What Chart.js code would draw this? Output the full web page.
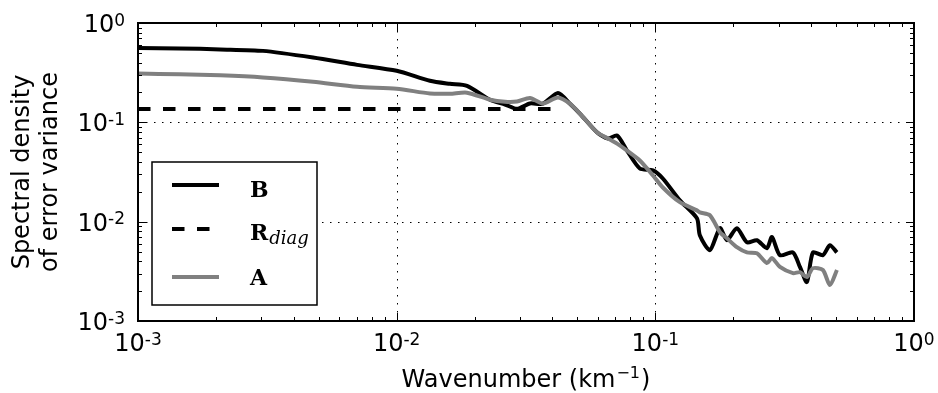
<!DOCTYPE html>
<html>
<head>
<meta charset="utf-8">
<script src="https://cdn.jsdelivr.net/npm/chart.js@4/dist/chart.umd.min.js"></script>
<style>
  body { margin: 0; background: #fff; }
  canvas { display: block; }
</style>
</head>
<body>
<canvas id="chart" width="938" height="393"></canvas>
<script>
// wavenumber (km^-1) sample points
const wavenumber = [0.001, 0.00145, 0.00208, 0.00304, 0.00475, 0.00703, 0.0100, 0.01345, 0.01606, 0.0187,
  0.02296, 0.02624, 0.02918, 0.03275, 0.03677, 0.04204, 0.04677, 0.05117, 0.05946, 0.06561,
  0.07112, 0.07769, 0.0871, 0.0979, 0.1069, 0.1244, 0.1448, 0.1486, 0.1625, 0.1778,
  0.1892, 0.2066, 0.226, 0.247, 0.27, 0.2824, 0.3032, 0.3404, 0.3622, 0.3855,
  0.4066, 0.4444, 0.4731, 0.5035];

// B (background error)
const specB = [0.561, 0.555, 0.542, 0.524, 0.449, 0.379, 0.330, 0.262, 0.244, 0.233,
  0.169, 0.151, 0.137, 0.155, 0.154, 0.197, 0.154, 0.122, 0.0794, 0.0687,
  0.0736, 0.0520, 0.0343, 0.0328, 0.0272, 0.0164, 0.0108, 0.00731, 0.00517, 0.0086,
  0.0065, 0.0086, 0.0062, 0.0065, 0.0054, 0.0070, 0.0046, 0.0049, 0.0035, 0.00247,
  0.0049, 0.0046, 0.0058, 0.0049];

// A (analysis error)
const specA = [0.310, 0.304, 0.297, 0.283, 0.256, 0.228, 0.218, 0.195, 0.194, 0.199,
  0.169, 0.161, 0.162, 0.176, 0.155, 0.178, 0.154, 0.122, 0.0794, 0.0687,
  0.0611, 0.0520, 0.0413, 0.0292, 0.0221, 0.0157, 0.0130, 0.0124, 0.0116, 0.00783,
  0.0068, 0.00553, 0.0049, 0.0048, 0.00383, 0.0043, 0.0035, 0.00303, 0.0031, 0.00277,
  0.0034, 0.00326, 0.0023, 0.00326];

// R_diag is flat up to ~0.04 km^-1
const rdiagK = [0.001, 0.0395];
const rdiagVal = [0.136, 0.136];

const decades = [-3, -2, -1, 0];
const legendLabels = ['B', 'R', 'A'];

const toPoints = (xs, ys) => xs.map((x, i) => ({ x: x, y: ys[i] }));

// "10" with a raised exponent, like matplotlib's log labels
function drawPow(ctx, d, x, baseline, align) {
  ctx.font = '24px "DejaVu Sans"';
  const w1 = ctx.measureText('10').width;
  const exp = String(d);
  ctx.font = '17px "DejaVu Sans"';
  const w2 = ctx.measureText(exp).width;
  const w = w1 + w2;
  const x0 = align === 'right' ? x - w : x - w / 2;
  ctx.font = '24px "DejaVu Sans"';
  ctx.fillText('10', x0, baseline);
  ctx.font = '17px "DejaVu Sans"';
  ctx.fillText(exp, x0 + w1, baseline - 6.5);
}

// dotted grid, inward ticks, frame, legend, tick labels and axis titles
const decorations = {
  id: 'decorations',
  beforeDatasetsDraw(chart) {
    const { ctx, chartArea: a, scales } = chart;
    ctx.save();
    ctx.strokeStyle = '#000';
    ctx.lineWidth = 1;
    ctx.setLineDash([1.5, 6.5]);
    decades.forEach(d => {
      const v = Math.pow(10, d);
      const px = Math.round(scales.x.getPixelForValue(v)) + 0.5;
      const py = Math.round(scales.y.getPixelForValue(v)) + 0.5;
      if (px > a.left + 2 && px < a.right - 2) {
        ctx.beginPath(); ctx.moveTo(px, a.top); ctx.lineTo(px, a.bottom); ctx.stroke();
      }
      if (py > a.top + 2 && py < a.bottom - 2) {
        ctx.beginPath(); ctx.moveTo(a.left, py); ctx.lineTo(a.right, py); ctx.stroke();
      }
    });
    ctx.restore();
  },
  afterDatasetsDraw(chart) {
    const { ctx, chartArea: a, scales } = chart;
    ctx.save();
    ctx.strokeStyle = '#000';
    ctx.lineWidth = 1;
    decades.forEach(d => {
      for (let m = 1; m <= 9; m++) {
        const v = m * Math.pow(10, d);
        if (v > 1.0001) continue;
        const len = m === 1 ? 8 : 4;
        const px = Math.round(scales.x.getPixelForValue(v)) + 0.5;
        const py = Math.round(scales.y.getPixelForValue(v)) + 0.5;
        ctx.beginPath();
        ctx.moveTo(px, a.bottom); ctx.lineTo(px, a.bottom - len);
        ctx.moveTo(px, a.top); ctx.lineTo(px, a.top + len);
        ctx.moveTo(a.left, py); ctx.lineTo(a.left + len, py);
        ctx.moveTo(a.right, py); ctx.lineTo(a.right - len, py);
        ctx.stroke();
      }
    });
    ctx.lineWidth = 2;
    ctx.strokeRect(a.left, a.top, a.right - a.left, a.bottom - a.top);

    // legend
    ctx.fillStyle = '#fff';
    ctx.fillRect(152, 162, 165, 143);
    ctx.lineWidth = 1.5;
    ctx.strokeStyle = '#000';
    ctx.strokeRect(152, 162, 165, 143);

    const ds = chart.data.datasets;
    const rows = [185, 229, 277];
    ds.forEach((d, i) => {
      ctx.save();
      ctx.strokeStyle = d.borderColor;
      ctx.lineWidth = 4;
      ctx.setLineDash(d.borderDash || []);
      ctx.beginPath();
      ctx.moveTo(172, rows[i]); ctx.lineTo(219, rows[i]);
      ctx.stroke();
      ctx.restore();
    });
    ctx.fillStyle = '#000';
    ctx.textAlign = 'left';
    ctx.textBaseline = 'alphabetic';
    ctx.font = 'bold 22px "DejaVu Serif"';
    ctx.fillText(legendLabels[0], 250, 197);
    ctx.fillText(legendLabels[1], 250, 240);
    const rw = ctx.measureText(legendLabels[1]).width;
    ctx.fillText(legendLabels[2], 250, 285);
    ctx.font = 'italic 18px "DejaVu Serif"';
    ctx.fillText('diag', 250 + rw + 1, 244);
    ctx.restore();
  },
  afterDraw(chart) {
    const { ctx, chartArea: a, scales } = chart;
    ctx.save();
    ctx.fillStyle = '#000';
    ctx.textBaseline = 'alphabetic';
    ctx.textAlign = 'left';

    // tick labels
    decades.forEach(d => {
      const v = Math.pow(10, d);
      drawPow(ctx, d, scales.x.getPixelForValue(v), 351, 'center');
      drawPow(ctx, d, a.left - 13, scales.y.getPixelForValue(v) + 9, 'right');
    });

    // x title with superscript
    ctx.font = '24px "DejaVu Sans"';
    const t1 = 'Wavenumber (km', t3 = ')';
    const w1 = ctx.measureText(t1).width, w3 = ctx.measureText(t3).width;
    ctx.font = '16px "DejaVu Sans"';
    const t2 = '\u22121';
    const w2 = ctx.measureText(t2).width + 2;
    let x0 = (a.left + a.right) / 2 - (w1 + w2 + w3) / 2;
    ctx.font = '24px "DejaVu Sans"';
    ctx.fillText(t1, x0, 387);
    ctx.font = '16px "DejaVu Sans"';
    ctx.fillText(t2, x0 + w1 + 1, 378);
    ctx.font = '24px "DejaVu Sans"';
    ctx.fillText(t3, x0 + w1 + w2, 387);

    // y title, two lines
    ctx.textAlign = 'center';
    const cy = (a.top + a.bottom) / 2;
    [['Spectral density', 29], ['of error variance', 57]].forEach(([t, x]) => {
      ctx.save();
      ctx.translate(x, cy);
      ctx.rotate(-Math.PI / 2);
      ctx.fillText(t, 0, 0);
      ctx.restore();
    });
    ctx.restore();
  }
};

new Chart(document.getElementById('chart'), {
  type: 'line',
  data: {
    datasets: [
      {
        label: 'B',
        data: toPoints(wavenumber, specB),
        borderColor: '#000000',
        borderWidth: 4,
        pointRadius: 0,
        tension: 0.25,
        fill: false,
        order: 2
      },
      {
        label: 'R_diag',
        data: toPoints(rdiagK, rdiagVal),
        borderColor: '#000000',
        borderWidth: 4,
        borderDash: [12.5, 12.5],
        pointRadius: 0,
        fill: false,
        order: 3
      },
      {
        label: 'A',
        data: toPoints(wavenumber, specA),
        borderColor: '#808080',
        borderWidth: 4,
        pointRadius: 0,
        tension: 0.25,
        fill: false,
        order: 1
      }
    ]
  },
  options: {
    responsive: false,
    animation: false,
    devicePixelRatio: 1,
    layout: { padding: { top: 23, right: 24, left: 0, bottom: 0 } },
    plugins: {
      legend: { display: false },
      tooltip: { enabled: false }
    },
    scales: {
      x: {
        type: 'logarithmic',
        min: 0.001,
        max: 1,
        grid: { display: false, drawTicks: false },
        border: { display: false },
        ticks: { display: false, autoSkip: false },
        afterFit: s => { s.height = 72; }
      },
      y: {
        type: 'logarithmic',
        min: 0.001,
        max: 1,
        grid: { display: false, drawTicks: false },
        border: { display: false },
        ticks: { display: false, autoSkip: false },
        afterFit: s => { s.width = 138; }
      }
    }
  },
  plugins: [decorations]
});
</script>
</body>
</html>
